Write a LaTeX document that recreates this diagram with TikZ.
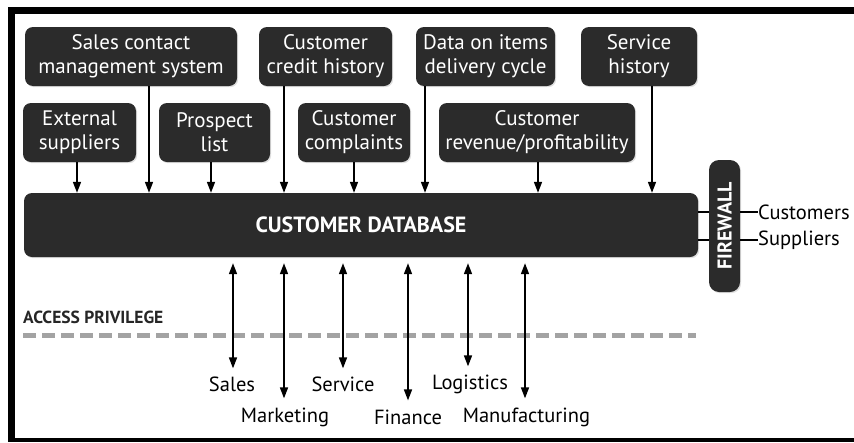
\documentclass[tikz,border=0pt]{standalone}
\usepackage{fontspec}
\setmainfont{PT Sans}
\usetikzlibrary{arrows.meta,shadows}
\definecolor{boxfill}{HTML}{2B2B2B}
\definecolor{dashgray}{HTML}{A3A3A3}
\begin{document}
\begin{tikzpicture}[x=1pt,y=-1pt,
  srcbox/.style={fill=boxfill,rounded corners=8pt,text=white,align=center,
    inner sep=0pt,font=\fontsize{21}{24}\selectfont,
    drop shadow={opacity=0.25,shadow xshift=1.2pt,shadow yshift=-1.2pt}},
  arr/.style={line width=1.6pt,-{Triangle[width=8pt,length=11pt]}},
  darr/.style={line width=1.6pt,{Triangle[width=8pt,length=11pt]}-{Triangle[width=8pt,length=11pt]}},
  conn/.style={line width=1.6pt},
  lbl/.style={font=\fontsize{20.5}{23}\selectfont,inner sep=2pt},
  framepart/.style={fill=black,draw=none}]
\useasboundingbox (0,0) rectangle (854,442);
% frame
\fill[framepart] (8,7) rectangle (854,14);
\fill[framepart] (8,7) rectangle (15,442);
\fill[framepart] (8,438) rectangle (854,442);
% top row
\node[srcbox,minimum width=212pt,minimum height=59pt] (sales) at (131,56.5) {Sales contact\\management system};
\node[srcbox,minimum width=133pt,minimum height=59pt] (credit) at (325.5,56.5) {Customer\\credit history};
\node[srcbox,minimum width=139pt,minimum height=59pt] (items) at (485.5,56.5) {Data on items\\delivery cycle};
\node[srcbox,minimum width=116pt,minimum height=59pt] (servhist) at (639,56.5) {Service\\history};
% second row
\node[srcbox,minimum width=113pt,minimum height=59pt] (ext) at (79.5,132.5) {External\\suppliers};
\node[srcbox,minimum width=111pt,minimum height=59pt] (prospect) at (214.5,132.5) {Prospect\\list};
\node[srcbox,minimum width=112pt,minimum height=59pt] (complaints) at (354,132.5) {Customer\\complaints};
\node[srcbox,minimum width=196pt,minimum height=59pt] (revenue) at (537,132.5) {Customer\\revenue/profitability};
% database
\node[srcbox,minimum width=674pt,minimum height=64pt,font=\fontsize{22}{24}\selectfont\bfseries] (db) at (361,225) {CUSTOMER DATABASE};
% firewall
\node[srcbox,minimum width=31pt,minimum height=132pt,rounded corners=10pt] (fw) at (724.5,226) {};
\node[text=white,font=\fontsize{20}{22}\selectfont\bfseries,rotate=90,inner sep=0pt] (fwtext) at (fw.center) {FIREWALL};
% arrows into database
\draw[arr] (ext.south -| 77,0) -- (db.north -| 77,0);
\draw[arr] (sales.south -| 149,0) -- (db.north -| 149,0);
\draw[arr] (prospect.south -| 211,0) -- (db.north -| 211,0);
\draw[arr] (credit.south -| 284,0) -- (db.north -| 284,0);
\draw[arr] (complaints.south -| 354,0) -- (db.north -| 354,0);
\draw[arr] (items.south -| 425,0) -- (db.north -| 425,0);
\draw[arr] (revenue.south -| 538,0) -- (db.north -| 538,0);
\draw[arr] (servhist.south -| 652,0) -- (db.north -| 652,0);
% firewall connections
\node[lbl,anchor=west,inner sep=0pt] (cust) at (758,212) {Customers};
\node[lbl,anchor=west,inner sep=0pt] (supp) at (758,240) {Suppliers};
\draw[conn] (db.east |- cust) -- (fw.west |- cust);
\draw[conn] (db.east |- supp) -- (fw.west |- supp);
\draw[conn] (fw.east |- cust) -- (cust.west);
\draw[conn] (fw.east |- supp) -- (supp.west);
% access privilege
\node[anchor=west,inner sep=0pt,text=black!85,font=\fontsize{17.5}{20}\selectfont\bfseries] (access) at (23,317) {ACCESS PRIVILEGE};
\coordinate (dashL) at (23,335);
\coordinate (dashR) at (696,335);
\draw[dashgray,line width=5pt,dash pattern=on 13pt off 6pt] (dashL) -- (dashR);
% departments
\node[lbl] (dsales) at (232,384) {Sales};
\node[lbl] (dmkt) at (285,417) {Marketing};
\node[lbl] (dserv) at (343,384) {Service};
\node[lbl] (dfin) at (408,417) {Finance};
\node[lbl] (dlog) at (470,384) {Logistics};
\node[lbl] (dman) at (526.5,417) {Manufacturing};
\draw[darr,shorten <=6pt,shorten >=6pt] (db.south -| 233,0) -- (dsales.north -| 233,0);
\draw[darr,shorten <=6pt,shorten >=7pt] (db.south -| 284,0) -- (dmkt.north -| 284,0);
\draw[darr,shorten <=6pt,shorten >=6pt] (db.south -| 343,0) -- (dserv.north -| 343,0);
\draw[darr,shorten <=6pt,shorten >=7pt] (db.south -| 408,0) -- (dfin.north -| 408,0);
\draw[darr,shorten <=6pt,shorten >=6pt] (db.south -| 468,0) -- (dlog.north -| 468,0);
\draw[darr,shorten <=6pt,shorten >=7pt] (db.south -| 525,0) -- (dman.north -| 525,0);
\end{tikzpicture}
\end{document}
